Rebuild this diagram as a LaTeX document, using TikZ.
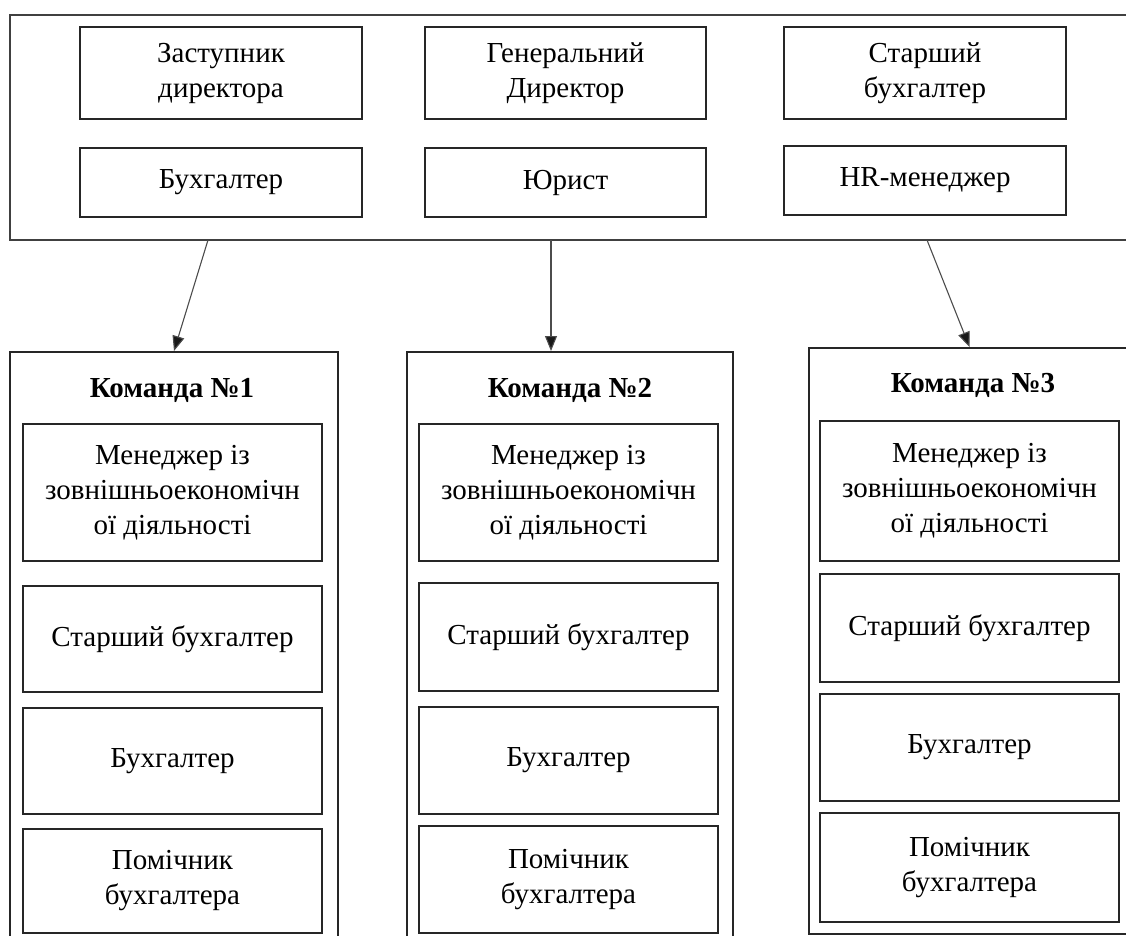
\documentclass[tikz,border=0pt]{standalone}
\usepackage{fontspec}
\setmainfont{Liberation Serif}
\usetikzlibrary{arrows.meta}
\tikzset{
  box/.style={draw=black!85, line width=1.8pt, align=center, inner sep=0pt,
    font=\fontsize{29}{35}\selectfont},
  outerbox/.style={draw=black!75, line width=1.3pt, inner sep=0pt},
  teambox/.style={draw=black!85, line width=1.6pt, inner sep=0pt},
  title/.style={font=\fontsize{29}{34}\selectfont\bfseries, inner sep=0pt},
  arr/.style={draw=black!70, line width=1.1pt, -{Triangle[length=15pt,width=12pt,fill=black!90]}}
}
\begin{document}
\begin{tikzpicture}[x=1pt,y=-1pt]
\useasboundingbox (0,0) rectangle (1126,935);
\clip (0,0) rectangle (1126,935);
% top container
\node[outerbox, minimum width=1130pt, minimum height=225pt] (top) at (575,127.5) {};
\node[box, minimum width=282pt, minimum height=92pt] (zd) at (221,73) {Заступник\\директора};
\node[box, minimum width=281pt, minimum height=92pt] (gd) at (565.5,73) {Генеральний\\Директор};
\node[box, minimum width=282pt, minimum height=92pt] (sb) at (925,73) {Старший\\бухгалтер};
\node[box, minimum width=282pt, minimum height=69pt] (bh) at (221,182.5) {Бухгалтер};
\node[box, minimum width=281pt, minimum height=69pt] (ur) at (565.5,182.5) {Юрист};
\node[box, minimum width=282pt, minimum height=69pt] (hr) at (925,180.5) {HR-менеджер};
% teams
\node[teambox, minimum width=328pt, minimum height=600pt, anchor=north] (t1) at (174,351) {};
\node[teambox, minimum width=326pt, minimum height=600pt, anchor=north] (t2) at (570,351) {};
\node[teambox, minimum width=321pt, minimum height=586pt, anchor=north] (t3) at (969.5,347) {};
\node[title] (k1) at (172,390) {Команда №1};
\node[title] (k2) at (570,390) {Команда №2};
\node[title] (k3) at (973,385) {Команда №3};
% team 1
\node[box, minimum width=299pt, minimum height=137pt] (m1) at (172.5,492.5) {Менеджер із\\зовнішньоекономічн\\ої діяльності};
\node[box, minimum width=299pt, minimum height=106pt] (s1) at (172.5,639) {Старший бухгалтер};
\node[box, minimum width=299pt, minimum height=106pt] (b1) at (172.5,761) {Бухгалтер};
\node[box, minimum width=299pt, minimum height=104pt] (p1) at (172.5,881) {Помічник\\бухгалтера};
% team 2
\node[box, minimum width=299pt, minimum height=137pt] (m2) at (568.5,492.5) {Менеджер із\\зовнішньоекономічн\\ої діяльності};
\node[box, minimum width=299pt, minimum height=108pt] (s2) at (568.5,637) {Старший бухгалтер};
\node[box, minimum width=299pt, minimum height=107pt] (b2) at (568.5,760.5) {Бухгалтер};
\node[box, minimum width=299pt, minimum height=107pt] (p2) at (568.5,879.5) {Помічник\\бухгалтера};
% team 3
\node[box, minimum width=299pt, minimum height=140pt] (m3) at (969.5,491) {Менеджер із\\зовнішньоекономічн\\ої діяльності};
\node[box, minimum width=299pt, minimum height=108pt] (s3) at (969.5,628) {Старший бухгалтер};
\node[box, minimum width=299pt, minimum height=107pt] (b3) at (969.5,747.5) {Бухгалтер};
\node[box, minimum width=299pt, minimum height=109pt] (p3) at (969.5,867.5) {Помічник\\бухгалтера};
% arrows
\coordinate (a1) at (208,240);
\coordinate (a2) at (551,240);
\coordinate (a3) at (927,240);
\draw[arr] (a1) -- (t1.north);
\draw[arr] (a2) -- (a2 |- t2.north);
\draw[arr] (a3) -- (t3.north);
\end{tikzpicture}
\end{document}
